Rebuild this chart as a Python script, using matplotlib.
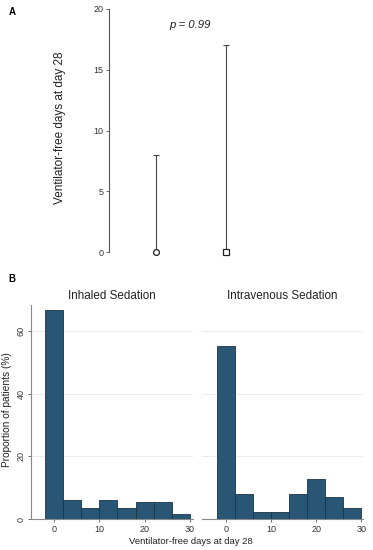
import matplotlib
matplotlib.use("Agg")
import matplotlib.pyplot as plt
from matplotlib import font_manager as fm
import numpy as np

# make sure the regular (not Narrow) Liberation Sans is used
fm.fontManager.ttflist = [f for f in fm.fontManager.ttflist
                          if "Narrow" not in f.fname]
try:
    fm.fontManager._findfont_cached.cache_clear()
except Exception:
    pass
plt.rcParams['font.family'] = ['Liberation Sans', 'DejaVu Sans']

# Panel A data
groups = ["Inhaled", "Intravenous"]
medians = [0, 0]
upper_q = [8, 17]
p_text = "p = 0.99"

# Panel B data (histograms, bin width 4 starting at -2)
bin_edges = [-2, 2, 6, 10, 14, 18, 22, 26, 30]
inhaled_pct = [66.8, 6.2, 3.5, 6.2, 3.5, 5.3, 5.3, 1.7]
iv_pct = [55.2, 8.1, 2.1, 2.1, 8.1, 12.8, 6.9, 3.4]
titles = ["Inhaled Sedation", "Intravenous Sedation"]
a_yticks = [0, 5, 10, 15, 20]
b_xticks = [0, 10, 20, 30]
b_yticks = [0, 20, 40, 60]

W, H = 373, 550
fig = plt.figure(figsize=(W / 100, H / 100), dpi=100)

def ax_px(x0, y0, x1, y1):
    return fig.add_axes([x0 / W, 1 - y1 / H, (x1 - x0) / W, (y1 - y0) / H])

axis_col = "#555555"
bar_col = "#2a5676"
edge_col = "#1a3448"
tick_fs = 6.5

# ---- Panel A ----
axA = ax_px(109, 9, 273, 252)
xs = np.arange(1, len(groups) + 1)
markers = ["o", "s"]
for x, m, u, mk in zip(xs, medians, upper_q, markers):
    axA.errorbar([x], [m], yerr=[[0], [u - m]], fmt="none", ecolor="#444444",
                 elinewidth=0.8, capsize=2.5, capthick=0.8, clip_on=False)
    axA.plot([x], [m], marker=mk, ms=4.2, mfc="white", mec="#222222", mew=0.9,
             linestyle="none", clip_on=False, zorder=5)
axA.set_xlim(0.33, 2.67)
axA.set_ylim(0, 20)
axA.set_yticks(a_yticks)
axA.tick_params(axis="y", labelsize=tick_fs, length=2, width=0.6, color=axis_col,
                labelcolor="#333333", pad=2)
axA.set_xticks([])
for s in ["top", "right", "bottom"]:
    axA.spines[s].set_visible(False)
axA.spines["left"].set_color(axis_col)
axA.spines["left"].set_linewidth(0.8)
axA.text(1.49, 18.7, p_text, style="italic", fontsize=8.2, ha="center",
         va="center", color="#222222")
fig.text(60 / W, 1 - 128 / H, "Ventilator-free days at day 28", rotation=90,
         ha="center", va="center", fontsize=8.5, color="#222222")
fig.text(12 / W, 1 - 12 / H, "A", fontsize=7, fontweight="bold", ha="center",
         va="center")

# ---- Panel B ----
axL = ax_px(31, 305, 193, 519)
axR = ax_px(202, 305, 363, 519)
lefts = np.array(bin_edges[:-1])
widths = np.diff(bin_edges)
for ax, vals, title, xl in [(axL, inhaled_pct, titles[0], (-5.1, 30.7)),
                            (axR, iv_pct, titles[1], (-5.3, 30.4))]:
    ax.bar(lefts, vals, width=widths, align="edge", color=bar_col,
           edgecolor=edge_col, linewidth=0.6, zorder=3)
    ax.set_xlim(*xl)
    ax.set_ylim(0, 68.3)
    ax.set_yticks(b_yticks)
    ax.yaxis.grid(True, color="#e8e8e8", linewidth=0.6, zorder=0)
    ax.set_axisbelow(True)
    ax.set_xticks(b_xticks)
    ax.tick_params(axis="x", labelsize=tick_fs, length=2, width=0.6, color=axis_col,
                   labelcolor="#333333", pad=2)
    for s in ["top", "right"]:
        ax.spines[s].set_visible(False)
    ax.spines["bottom"].set_color("#888888")
    ax.spines["bottom"].set_linewidth(0.8)
    ax.set_title(title, fontsize=8.4, color="#222222", pad=4)
axL.tick_params(axis="y", labelsize=tick_fs, length=2, width=0.6, color=axis_col,
                labelcolor="#333333", pad=2, labelrotation=90)
for lab in axL.get_yticklabels():
    lab.set_va("center")
axL.spines["left"].set_color("#888888")
axL.spines["left"].set_linewidth(0.8)
axR.spines["left"].set_visible(False)
axR.tick_params(axis="y", left=False, labelleft=False)
fig.text(191 / W, 1 - 542 / H, "Ventilator-free days at day 28", ha="center",
         va="center", fontsize=6.8, color="#222222")
fig.text(7 / W, 1 - 410 / H, "Proportion of patients (%)", rotation=90,
         ha="center", va="center", fontsize=7.3, color="#222222")
fig.text(12 / W, 1 - 279 / H, "B", fontsize=7, fontweight="bold", ha="center",
         va="center")

fig.savefig("out.png", dpi=100)
